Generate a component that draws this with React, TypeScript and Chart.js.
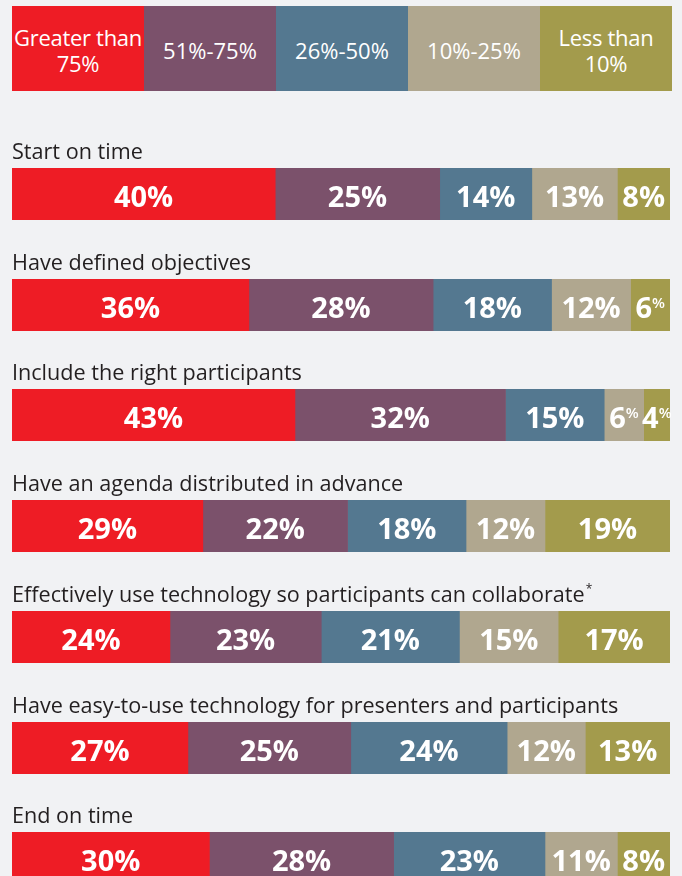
import React, { useEffect, useRef } from "react";
import { Chart, registerables } from "chart.js";

Chart.register(...registerables);

// ---- data ----
const categories = [
  "Start on time",
  "Have defined objectives",
  "Include the right participants",
  "Have an agenda distributed in advance",
  "Effectively use technology so participants can collaborate*",
  "Have easy-to-use technology for presenters and participants",
  "End on time",
];
const groupLabels = [
  ["Greater than", "75%"],
  ["51%-75%"],
  ["26%-50%"],
  ["10%-25%"],
  ["Less than", "10%"],
];
const greaterThan75 = [40, 36, 43, 29, 24, 27, 30];
const from51to75 = [25, 28, 32, 22, 23, 25, 28];
const from26to50 = [14, 18, 15, 18, 21, 24, 23];
const from10to25 = [13, 12, 6, 12, 15, 12, 11];
const lessThan10 = [8, 6, 4, 19, 17, 13, 8];

const series = [greaterThan75, from51to75, from26to50, from10to25, lessThan10];
const colors = ["#ee1c25", "#7b516b", "#547890", "#b0a78f", "#a39b4c"];

const FONT = "'Open Sans', 'Noto Sans', sans-serif";
const W = 682;
const TITLE_H = 40;
const BAR_H = 52;
const FIRST_BAR_TOP = 168;
const ROW_STEP = 110.7;

const labelPlugin = {
  id: "segLabels",
  afterDatasetsDraw(chart: any) {
    const ctx = chart.ctx;
    ctx.save();
    ctx.fillStyle = "#ffffff";
    ctx.textBaseline = "alphabetic";
    chart.data.datasets.forEach((ds: any, di: number) => {
      const meta = chart.getDatasetMeta(di);
      meta.data.forEach((el: any, i: number) => {
        const v = ds.data[i];
        const cx = (el.x + el.base) / 2;
        const baseY = el.y + 13;
        if (v <= 6) {
          const num = String(v);
          ctx.font = `bold 29px ${FONT}`;
          const nw = ctx.measureText(num).width;
          ctx.font = `600 15px ${FONT}`;
          const pw = ctx.measureText("%").width;
          const start = cx - (nw + pw) / 2;
          ctx.textAlign = "left";
          ctx.font = `bold 29px ${FONT}`;
          ctx.fillText(num, start, baseY);
          ctx.font = `600 15px ${FONT}`;
          ctx.fillText("%", start + nw, baseY - 10);
        } else {
          ctx.font = `bold 29px ${FONT}`;
          ctx.textAlign = "center";
          ctx.fillText(v + "%", cx, baseY);
        }
      });
    });
    ctx.restore();
  },
};

const titlePlugin = {
  id: "rowTitle",
  afterDraw(chart: any) {
    const ctx = chart.ctx;
    const area = chart.chartArea;
    let text: string = chart.data.labels[0];
    let star = false;
    if (text.endsWith("*")) {
      star = true;
      text = text.slice(0, -1);
    }
    ctx.save();
    ctx.fillStyle = "#231f20";
    ctx.textBaseline = "alphabetic";
    ctx.textAlign = "left";
    ctx.font = `21.6px ${FONT}`;
    const y = area.top - 9;
    ctx.fillText(text, area.left, y);
    if (star) {
      const w = ctx.measureText(text).width;
      ctx.font = `12px ${FONT}`;
      ctx.fillText("*", area.left + w + 1, y - 9);
    }
    ctx.restore();
  },
};

function Row({ index }: { index: number }) {
  const ref = useRef<HTMLCanvasElement>(null);
  useEffect(() => {
    if (!ref.current) return;
    const vals = series.map((s) => s[index]);
    const total = vals.reduce((a, b) => a + b, 0);
    const chart = new Chart(ref.current, {
      type: "bar",
      data: {
        labels: [categories[index]],
        datasets: series.map((s, si) => ({
          data: [s[index]],
          backgroundColor: colors[si],
          borderWidth: 0,
          barPercentage: 1,
          categoryPercentage: 1,
        })),
      },
      options: {
        indexAxis: "y",
        responsive: false,
        animation: false,
        devicePixelRatio: 1,
        layout: { padding: { left: 12, right: 12, top: TITLE_H, bottom: 0 } },
        scales: {
          x: { stacked: true, min: 0, max: total, display: false },
          y: { stacked: true, display: false },
        },
        plugins: {
          legend: { display: false },
          tooltip: { enabled: false },
          title: { display: false },
        },
      },
      plugins: [labelPlugin, titlePlugin],
    } as any);
    return () => chart.destroy();
  }, [index]);
  const top = FIRST_BAR_TOP + index * ROW_STEP - TITLE_H;
  return (
    <canvas
      ref={ref}
      width={W}
      height={TITLE_H + BAR_H}
      style={{ position: "absolute", left: 0, top, width: W, height: TITLE_H + BAR_H, display: "block" }}
    />
  );
}

export default function App() {
  return (
    <div
      style={{
        position: "absolute",
        left: 0,
        top: 0,
        width: W,
        height: 876,
        overflow: "hidden",
        background: "#f1f2f4",
      }}
    >
      <div
        style={{
          position: "absolute",
          left: 12,
          top: 6,
          width: 660,
          height: 85,
          display: "flex",
        }}
      >
        {groupLabels.map((lines, i) => (
          <div
            key={i}
            style={{
              flex: 1,
              background: colors[i],
              color: "#ffffff",
              display: "flex",
              flexDirection: "column",
              alignItems: "center",
              justifyContent: "center",
              fontFamily: FONT,
              fontSize: 22,
              lineHeight: "26px",
              whiteSpace: "nowrap",
              letterSpacing: lines.length > 1 ? -0.3 : 0,
              paddingTop: 2,
            }}
          >
            {lines.map((l, j) => (
              <span key={j}>{l}</span>
            ))}
          </div>
        ))}
      </div>
      {categories.map((_, i) => (
        <Row key={i} index={i} />
      ))}
    </div>
  );
}
